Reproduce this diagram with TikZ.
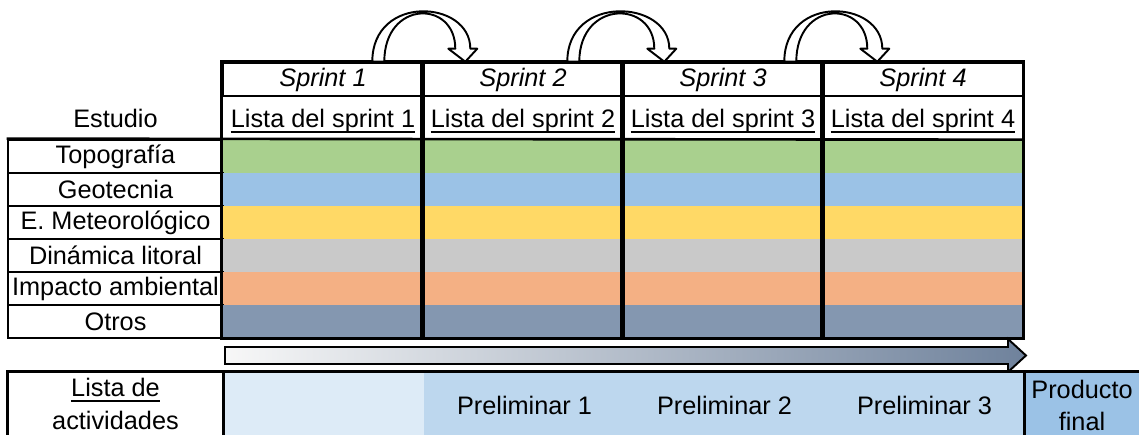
\documentclass[tikz,border=0pt]{standalone}
\usepackage{fontspec}
\setmainfont{Liberation Sans}

\definecolor{topo}{HTML}{A9D08E}
\definecolor{geot}{HTML}{9BC2E6}
\definecolor{mete}{HTML}{FFD966}
\definecolor{dina}{HTML}{C9C9C9}
\definecolor{impa}{HTML}{F4B084}
\definecolor{otro}{HTML}{8497B0}
\definecolor{actclaro}{HTML}{DDEBF7}
\definecolor{actmedio}{HTML}{BDD7EE}
\definecolor{actfinal}{HTML}{9BC2E6}
\definecolor{barrafin}{HTML}{6F829C}

\tikzset{
  linea/.style={line width=1.5pt},
  sprint/.style={draw, linea, minimum width=4cm, minimum height=0.66cm},
  etiqueta/.style={draw, linea, minimum width=4.3cm, minimum height=0.66cm},
  celda/.style={minimum width=4cm, minimum height=0.66cm},
  bajo/.style={minimum height=1.32cm, align=center},
  subrayado/.style={line width=0.9pt}
}

\begin{document}
\begin{tikzpicture}[x=0.02cm, y=-0.02cm,
  every node/.style={font=\fontsize{14.4}{18.2}\selectfont, inner sep=0pt}]
  \useasboundingbox (0,0) rectangle (1139,435);

  % cabecera de sprints
  \foreach \i in {1,...,4} {
    \node[sprint] (sp\i) at ({323+200*(\i-1)}, 79.5) {\textit{Sprint \i}};
    \node[anchor=base] (ls\i) at ({323+200*(\i-1)}, 128) {Lista del sprint \i};
    \draw[subrayado] ([yshift=-0.075cm]ls\i.base west) -- ([yshift=-0.075cm]ls\i.base east);
  }
  \node[anchor=base] (est) at (115.5, 128) {Estudio};

  % filas de estudios
  \foreach \name/\col [count=\r] in {Topografía/topo, Geotecnia/geot,
      E. Meteorológico/mete, Dinámica litoral/dina,
      Impacto ambiental/impa, Otros/otro} {
    \node[etiqueta] (e\r) at (115.5, {156.5+33*(\r-1)}) {\name};
    \foreach \j in {1,...,4}
      \node[celda, fill=\col] (c\r\j) at ({323+200*(\j-1)}, {156.5+33*(\r-1)}) {};
  }
  \foreach \j in {1,...,4}
    \draw[linea] (sp\j.north west) rectangle (c6\j.south east);
  \draw[linea] (e1.north west) -- (c14.north east);

  % flechas entre sprints
  \foreach \i/\a/\b in {1/-52/41, 2/-57/40, 3/-40/53} {
    \begin{scope}[shift={(sp\i.north east)}]
      \draw[fill=white, line width=1.1pt, line join=round]
        (\a,0) .. controls (\a,-68) and ({\b+5},-62) .. ({\b+5},-13)
        -- ({\b+12},-13) -- (\b,0) -- ({\b-17},-13) -- ({\b-10},-13)
        .. controls ({\b-10},-62) and ({\a+12},-62) .. ({\a+12},0) -- cycle;
    \end{scope}
  }

  % avance
  \coordinate (ini) at (225, 355.5);
  \coordinate (punta) at (1026, 355.5);
  \draw[line width=1.1pt, line join=miter, left color=gray!6, middle color=gray!28,
      right color=barrafin]
    ([yshift=0.17cm]ini) -- ([xshift=-0.36cm, yshift=0.17cm]punta)
    -- ([xshift=-0.36cm, yshift=0.33cm]punta) -- (punta)
    -- ([xshift=-0.36cm, yshift=-0.33cm]punta) -- ([xshift=-0.36cm, yshift=-0.17cm]punta)
    -- ([yshift=-0.17cm]ini) -- cycle;

  % lista de actividades
  \node[bajo, minimum width=4.3cm] (act) at (115.5, 405) {};
  \node[anchor=base] (act1) at (115.5, 397) {Lista de\ };
  \draw[subrayado] ([yshift=-0.075cm]act1.base west) -- ([yshift=-0.075cm]act1.base east);
  \node[anchor=base] (act2) at (115.5, 429) {actividades};
  \node[bajo, minimum width=4.02cm, fill=actclaro] (b0) at (323.5, 405) {};
  \foreach \k in {1,2,3}
    \node[bajo, minimum width=4.02cm, fill=actmedio] (p\k) at ({524.5+200*(\k-1)}, 405) {Preliminar \k};
  \node[bajo, minimum width=2.4cm, fill=actfinal] (fin) at (1085, 405) {};
  \node[align=center] (fintxt) at (1082, 405) {Producto\\final};
  \draw[linea] (act.south west) |- (fin.north east);
  \draw[linea] (act.north east) -- (act.south east);
  \draw[linea] (fin.north west) -- (fin.south west);
\end{tikzpicture}
\end{document}
